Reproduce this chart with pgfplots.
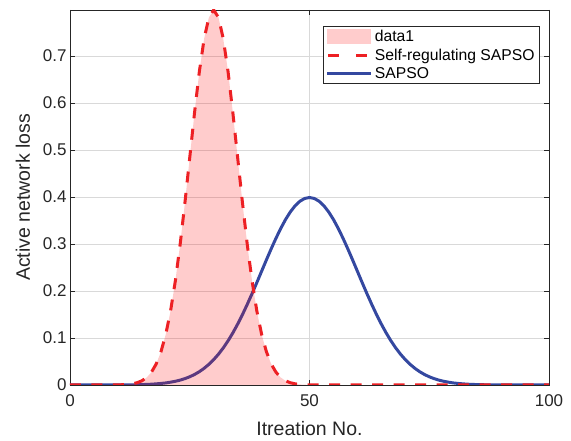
\documentclass[border=0pt]{standalone}
\usepackage{fontspec}
\setmainfont{Liberation Sans}
\usepackage{pgfplots}
\pgfplotsset{compat=1.18}
\definecolor{mred}{RGB}{237,32,36}
\definecolor{mblue}{RGB}{52,72,160}
\definecolor{axgray}{RGB}{38,38,38}
\pgfplotsset{bluelegend/.style={legend image code/.code={\draw[mblue, line width=3pt] (0pt,0pt) -- (44pt,0pt);}}}
\begin{document}
\begin{tikzpicture}
\begin{axis}[
 scale only axis, width=479pt, height=375pt,
 xmin=0, xmax=100, ymin=0, ymax=0.7979,
 xtick={0,50,100}, ytick={0,0.1,0.2,0.3,0.4,0.5,0.6,0.7},
 tick align=inside, major tick length=5pt,
 grid=major, major grid style={black!15, line width=0.6pt},
 axis line style={axgray, line width=0.7pt},
 tick style={axgray, line width=0.7pt},
 ticklabel style={font=\fontsize{17}{20}\selectfont, text=axgray},
 label style={font=\fontsize{19.5}{22}\selectfont, text=axgray},
 xticklabel style={yshift=-6pt},
 xlabel={Itreation No.}, ylabel={Active network loss},
 xlabel style={yshift=-8pt},
 ylabel style={yshift=6pt},
 /pgf/number format/assume math mode=true,
 yticklabel style={/pgf/number format/fixed, /pgf/number format/precision=1},
 legend cell align=left,
 legend style={at={(0.981,0.957)}, anchor=north east, draw=axgray, line width=0.6pt,
   font=\fontsize{15.7}{19}\selectfont, inner xsep=3pt, inner ysep=2pt,
   row sep=1.5pt, /tikz/every even column/.append style={column sep=0pt}},
]
\addplot[mblue, line width=3pt, forget plot] coordinates {
(0,0) (5,0) (10,0.0001) (11,0.0002) (12,0.0003) (13,0.0004) (14,0.0006) (15,0.0009) (16,0.0012) (17,0.0017) (18,0.0024) (19,0.0033) (20,0.0044) (21,0.0060) (22,0.0079) (23,0.0104) (24,0.0136) (25,0.0175) (26,0.0224) (27,0.0283) (28,0.0355) (29,0.0440) (30,0.0540) (31,0.0656) (32,0.0789) (33,0.0940) (34,0.1109) (35,0.1295) (36,0.1497) (37,0.1714) (38,0.1942) (39,0.2178) (40,0.2420) (41,0.2661) (42,0.2897) (43,0.3122) (44,0.3332) (45,0.3521) (46,0.3683) (47,0.3814) (48,0.3910) (49,0.3969) (50,0.3989)
(51,0.3969) (52,0.3910) (53,0.3814) (54,0.3683) (55,0.3521) (56,0.3332) (57,0.3122) (58,0.2897) (59,0.2661) (60,0.2420) (61,0.2178) (62,0.1942) (63,0.1714) (64,0.1497) (65,0.1295) (66,0.1109) (67,0.0940) (68,0.0789) (69,0.0656) (70,0.0540) (71,0.0440) (72,0.0355) (73,0.0283) (74,0.0224) (75,0.0175) (76,0.0136) (77,0.0104) (78,0.0079) (79,0.0060) (80,0.0044) (81,0.0033) (82,0.0024) (83,0.0017) (84,0.0012) (85,0.0009) (86,0.0006) (87,0.0004) (88,0.0003) (89,0.0002) (90,0.0001) (95,0) (100,0)
};
\addplot[draw=none, fill=red, fill opacity=0.2,
  legend image code/.code={\fill[red, fill opacity=0.2] (0pt,-7pt) rectangle (44pt,8pt);}] coordinates {
(10,0.0003) (11,0.0006) (12,0.0012) (13,0.0025) (14,0.0048) (15,0.0089) (16,0.0158) (17,0.0272) (18,0.0448) (19,0.0710) (20,0.1080) (21,0.1579) (22,0.2219) (23,0.2995) (24,0.3884) (25,0.4839) (26,0.5794) (27,0.6665) (28,0.7366) (29,0.7821) (30,0.7979) (31,0.7821) (32,0.7366) (33,0.6665) (34,0.5794) (35,0.4839) (36,0.3884) (37,0.2995) (38,0.2219) (39,0.1579) (40,0.1080) (41,0.0710) (42,0.0448) (43,0.0272) (44,0.0158) (45,0.0089) (46,0.0048) (47,0.0025) (48,0.0012) (49,0.0006) (50,0.0003)
} \closedcycle;
\addlegendentry{data1}
\addplot[mred, line width=3pt, dash pattern=on 11pt off 10.5pt,
  legend image code/.code={\draw[mred, line width=3pt] (1pt,0pt) -- (12pt,0pt) (29pt,0pt) -- (40pt,0pt);}] coordinates {
(0,0) (5,0) (10,0.0003) (11,0.0006) (12,0.0012) (13,0.0025) (14,0.0048) (15,0.0089) (16,0.0158) (17,0.0272) (18,0.0448) (19,0.0710) (20,0.1080) (21,0.1579) (22,0.2219) (23,0.2995) (24,0.3884) (25,0.4839) (26,0.5794) (27,0.6665) (28,0.7366) (29,0.7821) (30,0.7979) (31,0.7821) (32,0.7366) (33,0.6665) (34,0.5794) (35,0.4839) (36,0.3884) (37,0.2995) (38,0.2219) (39,0.1579) (40,0.1080) (41,0.0710) (42,0.0448) (43,0.0272) (44,0.0158) (45,0.0089) (46,0.0048) (47,0.0025) (48,0.0012) (49,0.0006) (50,0.0003) (55,0) (60,0) (65,0) (70,0) (75,0) (80,0) (85,0) (90,0) (95,0) (100,0)
};
\addlegendentry{Self-regulating SAPSO}
\addlegendimage{bluelegend}
\addlegendentry{SAPSO}
\end{axis}
\pgfresetboundingbox
\path[use as bounding box] ([shift={(-70pt,-56pt)}]current axis.south west) rectangle ([shift={(22pt,10pt)}]current axis.north east);
\end{tikzpicture}
\end{document}
